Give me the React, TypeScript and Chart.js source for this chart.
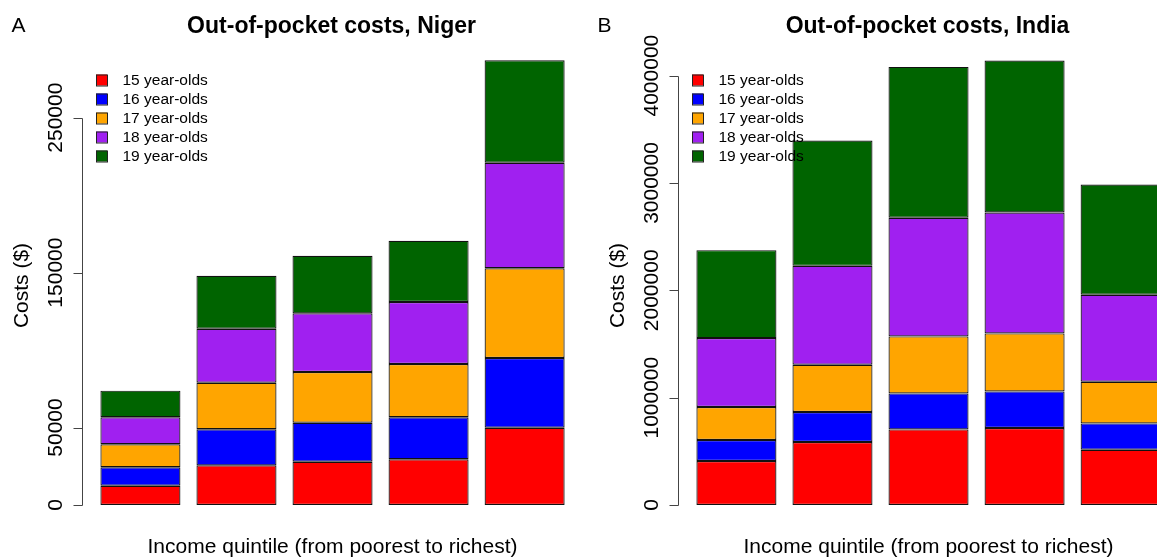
import React, { useEffect, useRef } from "react";
import { Chart, registerables } from "chart.js";

Chart.register(...registerables);

// ---------- data ----------
const quintiles = ["Q1", "Q2", "Q3", "Q4", "Q5"];
const ageGroups = ["15 year-olds", "16 year-olds", "17 year-olds", "18 year-olds", "19 year-olds"];
const ageColors = ["#FF0000", "#0000FF", "#FFA500", "#A020F0", "#006400"];

const niger15 = [12460, 25600, 27950, 29500, 49900];
const niger16 = [11870, 23250, 25150, 27100, 45000];
const niger17 = [14850, 30100, 32750, 34400, 57900];
const niger18 = [17420, 34850, 37850, 40000, 68100];
const niger19 = [17200, 34200, 37200, 39600, 66100];

const india15 = [409700, 586600, 704500, 717000, 515200];
const india16 = [195500, 279300, 335300, 341300, 245200];
const india17 = [307300, 440600, 530700, 540100, 387800];
const india18 = [642400, 921500, 1104800, 1126600, 810200];
const india19 = [819400, 1167000, 1406100, 1415000, 1027400];

const nigerTicks = [0, 50000, 150000, 250000];
const indiaTicks = [0, 1000000, 2000000, 3000000, 4000000];

const nigerTitle = "Out-of-pocket costs, Niger";
const indiaTitle = "Out-of-pocket costs, India";
const xAxisTitle = "Income quintile (from poorest to richest)";
const yAxisTitle = "Costs ($)";

const FONT = '"Liberation Sans", Arial, Helvetica, sans-serif';

type PanelCfg = {
  letter: string;
  letterX: number;
  title: string;
  ticks: number[];
  yMax: number;
  series: number[][];
};

function panelPlugin(cfg: PanelCfg) {
  return {
    id: "rstyle_" + cfg.letter,
    afterDraw(chart: any) {
      const ctx = chart.ctx as CanvasRenderingContext2D;
      const area = chart.chartArea;
      const y = chart.scales.y;
      const cx = (area.left + area.right) / 2;
      ctx.save();
      ctx.fillStyle = "#000";

      // panel letter
      ctx.font = `21px ${FONT}`;
      ctx.textAlign = "left";
      ctx.textBaseline = "alphabetic";
      ctx.fillText(cfg.letter, cfg.letterX, 32);

      // main title
      ctx.font = `bold 23px ${FONT}`;
      ctx.textAlign = "center";
      ctx.fillText(cfg.title, cx - 1, 32.5);

      // x axis title
      ctx.font = `21px ${FONT}`;
      ctx.fillText(xAxisTitle, cx, 553);

      // y axis (R style)
      const axisX = area.left - 10;
      const top = y.getPixelForValue(cfg.ticks[cfg.ticks.length - 1]);
      const bottom = y.getPixelForValue(cfg.ticks[0]);
      ctx.strokeStyle = "#444";
      ctx.lineWidth = 1;
      ctx.beginPath();
      ctx.moveTo(Math.round(axisX) + 0.5, Math.round(top) + 0.5);
      ctx.lineTo(Math.round(axisX) + 0.5, Math.round(bottom) + 0.5);
      cfg.ticks.forEach((t) => {
        const py = Math.round(y.getPixelForValue(t)) + 0.5;
        ctx.moveTo(Math.round(axisX) + 0.5, py);
        ctx.lineTo(Math.round(axisX) - 9 + 0.5, py);
      });
      ctx.stroke();

      ctx.font = `21px ${FONT}`;
      cfg.ticks.forEach((t) => {
        const py = y.getPixelForValue(t);
        ctx.save();
        ctx.translate(axisX - 20, py);
        ctx.rotate(-Math.PI / 2);
        ctx.textAlign = "center";
        ctx.textBaseline = "alphabetic";
        ctx.fillText(String(t), 0, 0);
        ctx.restore();
      });

      // y axis title
      ctx.save();
      ctx.translate(28, 285.5);
      ctx.rotate(-Math.PI / 2);
      ctx.textAlign = "center";
      ctx.textBaseline = "alphabetic";
      ctx.fillText(yAxisTitle, 0, 0);
      ctx.restore();

      // legend
      ctx.font = `15.5px ${FONT}`;
      ctx.textAlign = "left";
      ctx.textBaseline = "middle";
      chart.data.datasets.forEach((ds: any, i: number) => {
        const ry = 80 + i * 19;
        ctx.fillStyle = ds.backgroundColor;
        ctx.fillRect(96, ry - 5.5, 11, 11);
        ctx.strokeStyle = "#222";
        ctx.strokeRect(96.5, ry - 5, 11, 11);
        ctx.fillStyle = "#000";
        ctx.fillText(ds.label, 122.5, ry + 0.5);
      });

      ctx.restore();
    },
  };
}

function makeChart(canvas: HTMLCanvasElement, cfg: PanelCfg, width: number) {
  const left = 92.4;
  const right = width - (92.4 + 480.25);
  return new Chart(canvas, {
    type: "bar",
    data: {
      labels: quintiles,
      datasets: cfg.series.map((vals, i) => ({
        label: ageGroups[i],
        data: vals,
        backgroundColor: ageColors[i],
        borderColor: "#111",
        borderWidth: 1.2,
        borderSkipped: false,
        categoryPercentage: 1 / 1.2,
        barPercentage: 1,
      })),
    },
    options: {
      animation: false,
      responsive: false,
      devicePixelRatio: 1,
      layout: { padding: { left, right, top: 40.2, bottom: 54 } },
      scales: {
        x: { type: "category", stacked: true, display: false },
        y: { type: "linear", stacked: true, display: false, min: 0, max: cfg.yMax },
      },
      plugins: {
        legend: { display: false },
        tooltip: { enabled: false },
        title: { display: false },
      },
    },
    plugins: [panelPlugin(cfg)],
  });
}

export default function App() {
  const refA = useRef<HTMLCanvasElement>(null);
  const refB = useRef<HTMLCanvasElement>(null);

  useEffect(() => {
    const a = makeChart(
      refA.current!,
      {
        letter: "A",
        letterX: 11.5,
        title: nigerTitle,
        ticks: nigerTicks,
        yMax: 300000,
        series: [niger15, niger16, niger17, niger18, niger19],
      },
      596
    );
    const b = makeChart(
      refB.current!,
      {
        letter: "B",
        letterX: 1.5,
        title: indiaTitle,
        ticks: indiaTicks,
        yMax: 4330000,
        series: [india15, india16, india17, india18, india19],
      },
      596
    );
    return () => {
      a.destroy();
      b.destroy();
    };
  }, []);

  return (
    <div
      style={{
        position: "absolute",
        left: 0,
        top: 0,
        width: 1157,
        height: 559,
        overflow: "hidden",
        background: "#fff",
      }}
    >
      <canvas ref={refA} width={596} height={559} style={{ position: "absolute", left: 0, top: 0 }} />
      <canvas ref={refB} width={596} height={559} style={{ position: "absolute", left: 596, top: 0 }} />
    </div>
  );
}
